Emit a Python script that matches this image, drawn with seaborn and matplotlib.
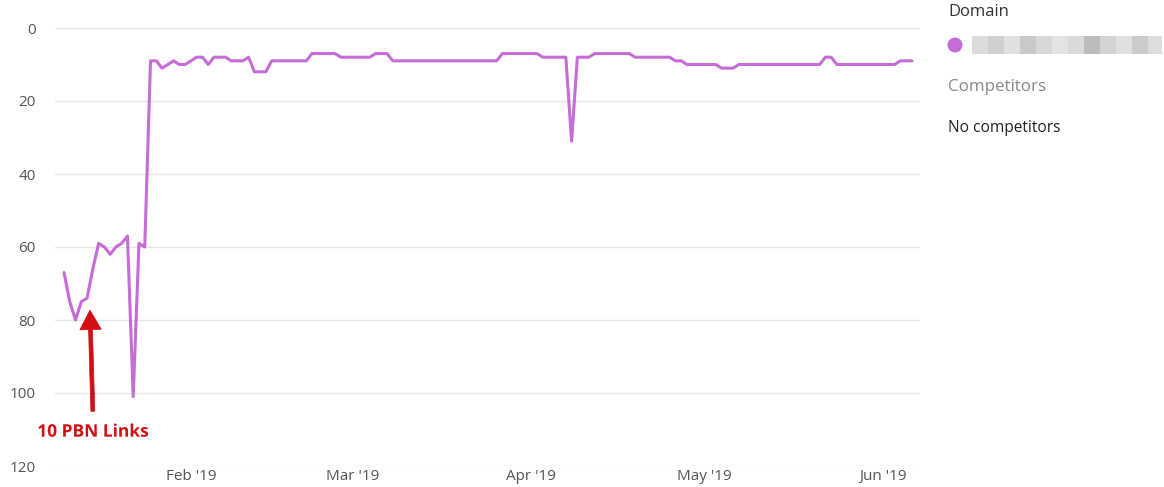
import matplotlib
matplotlib.use("Agg")
import matplotlib.pyplot as plt
import matplotlib.patheffects as pe
from matplotlib.patches import Rectangle, Circle
import seaborn as sns
import pandas as pd

# ---- data (daily rank, Jan 10 2019 .. Jun 6 2019) ----
start_date = "2019-01-10"
rank = [
    67, 75, 80, 75, 74, 66, 59, 60, 62, 60,
    59, 57, 101, 59, 60, 9, 9, 11, 10, 9,
    10, 10, 9, 8, 8, 10, 8, 8, 8, 9,
    9, 9, 8, 12, 12, 12, 9, 9, 9, 9,
    9, 9, 9, 7, 7, 7, 7, 7, 8, 8,
    8, 8, 8, 8, 7, 7, 7, 9, 9, 9,
    9, 9, 9, 9, 9, 9, 9, 9, 9, 9,
    9, 9, 9, 9, 9, 9, 7, 7, 7, 7,
    7, 7, 7, 8, 8, 8, 8, 8, 31, 8,
    8, 8, 7, 7, 7, 7, 7, 7, 7, 8,
    8, 8, 8, 8, 8, 8, 9, 9, 10, 10,
    10, 10, 10, 10, 11, 11, 11, 10, 10, 10,
    10, 10, 10, 10, 10, 10, 10, 10, 10, 10,
    10, 10, 8, 8, 10, 10, 10, 10, 10, 10,
    10, 10, 10, 10, 10, 9, 9, 9,
]
y_ticks = [0, 20, 40, 60, 80, 100, 120]
month_ticks = ["2019-02-01", "2019-03-01", "2019-04-01", "2019-05-01", "2019-06-01"]
month_labels = ["Feb '19", "Mar '19", "Apr '19", "May '19", "Jun '19"]
annotation_text = "10 PBN Links"
legend_title = "Domain"
competitors_title = "Competitors"
competitors_text = "No competitors"

dates = pd.date_range(start_date, periods=len(rank), freq="D")
df = pd.DataFrame({"date": dates, "rank": rank})

sns.set_style("white")
plt.rcParams["font.family"] = ["Open Sans", "DejaVu Sans"]

W, H = 1164, 487
fig = plt.figure(figsize=(W / 100, H / 100), dpi=100)
ax = fig.add_axes([55 / W, 1 - 466 / H, (920 - 55) / W, (466 - 28) / H])

line_color = "#c56cd6"
sns.lineplot(data=df, x="date", y="rank", ax=ax, color=line_color, linewidth=2.2,
             solid_joinstyle="round", solid_capstyle="round")

t0 = pd.Timestamp(start_date)
ax.set_xlim(t0 - pd.Timedelta(days=1.56), t0 + pd.Timedelta(days=148.4))
ax.set_ylim(120, 0)
ax.set_yticks(y_ticks)
ax.set_yticklabels([str(v) for v in y_ticks])
ax.set_xticks([pd.Timestamp(d) for d in month_ticks])
ax.set_xticklabels(month_labels)
ax.tick_params(axis="both", length=0, labelsize=11, colors="#555555")
ax.tick_params(axis="y", pad=14)
ax.tick_params(axis="x", pad=2)
ax.set_xlabel("")
ax.set_ylabel("")
ax.grid(axis="y", color="#e6e6e6", linewidth=1.0)
ax.grid(axis="x", visible=False)
for s in ax.spines.values():
    s.set_visible(False)
ax.set_axisbelow(True)

# annotation arrow + text
red = "#d10f14"
tip = (t0 + pd.Timedelta(days=4.5), 77.3)
tail = (t0 + pd.Timedelta(days=5.0), 105)
ax.annotate("", xy=tip, xytext=tail,
            arrowprops=dict(arrowstyle="simple,head_length=1.0,head_width=1.1,tail_width=0.2",
                            fc=red, ec=red, linewidth=0.5, shrinkA=0, shrinkB=0,
                            mutation_scale=14),
            annotation_clip=False)
ax.text(t0 + pd.Timedelta(days=5.0), 110.6, annotation_text, color=red,
        fontsize=12.5, fontweight="bold", ha="center", va="center",
        path_effects=[pe.withStroke(linewidth=3, foreground="white")],
        clip_on=False)

# right-side legend panel
fig.text(948 / W, 1 - 12 / H, legend_title, fontsize=12, color="#333333",
         ha="left", va="center")
dot = Circle((955 / 100, (H - 45) / 100), 7.5 / 100, transform=fig.dpi_scale_trans,
             color=line_color, ec="none")
fig.patches.append(dot)
shades = ["#dcdcdc", "#cfcfcf", "#e0e0e0", "#c9c9c9", "#d8d8d8", "#e3e3e3",
          "#dadada", "#bcbcbc", "#d3d3d3", "#e0e0e0", "#cbcbcb", "#dddddd"]
bx = 972
bw = 16
for sh in shades:
    if bx >= 1162:
        break
    fig.patches.append(Rectangle((bx / W, 1 - 54 / H), min(bw, 1162 - bx) / W, 18 / H,
                                 transform=fig.transFigure, color=sh, ec="none"))
    bx += bw
fig.text(948 / W, 1 - 87 / H, competitors_title, fontsize=12.2, color="#888888",
         ha="left", va="center")
fig.text(948 / W, 1 - 128 / H, competitors_text, fontsize=11.2, color="#222222",
         ha="left", va="center")

fig.savefig("out.png", dpi=100, facecolor="white")
